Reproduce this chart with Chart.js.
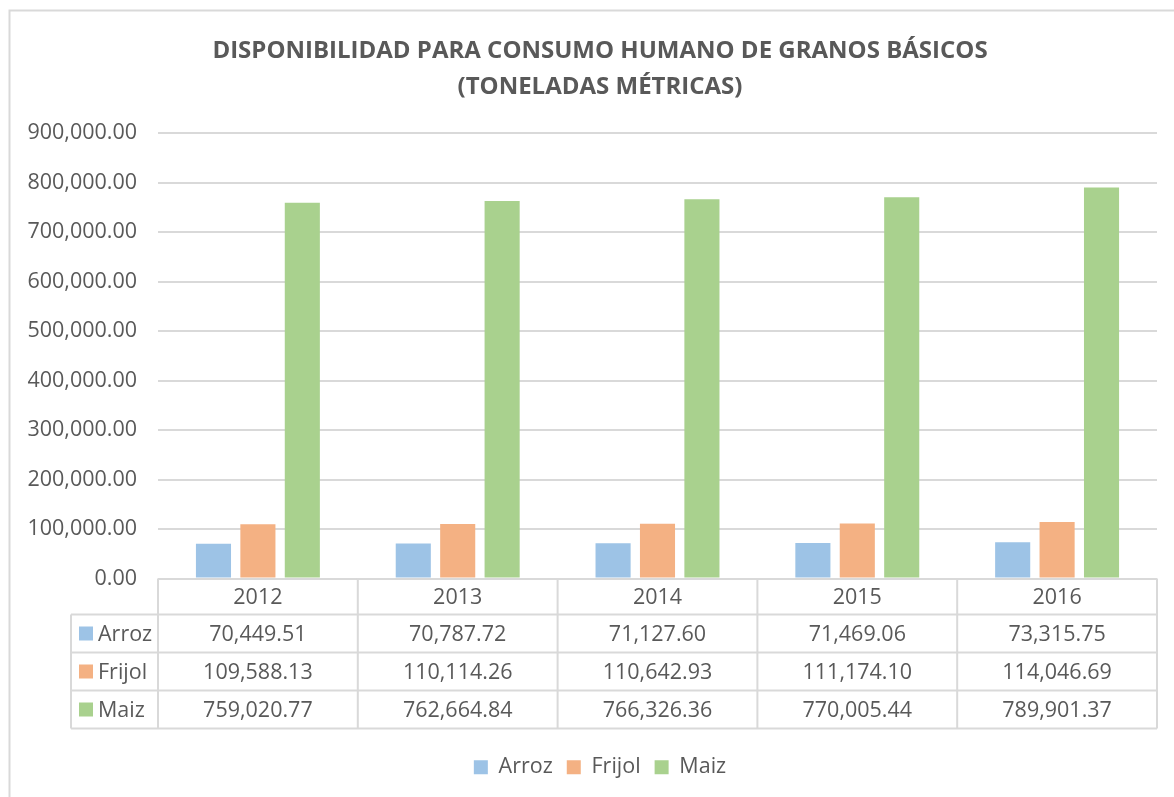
<!DOCTYPE html>
<html>
<head>
<meta charset="utf-8">
<script src="https://cdn.jsdelivr.net/npm/chart.js@4.4.1/dist/chart.umd.min.js"></script>
<style>
html,body{margin:0;padding:0;background:#fff;overflow:hidden;}
#wrap{position:relative;width:1174px;height:797px;}
</style>
</head>
<body>
<div id="wrap"><canvas id="c" width="1174" height="797"></canvas></div>
<script>
const categories = ['2012', '2013', '2014', '2015', '2016'];
const arroz = [70449.51, 70787.72, 71127.60, 71469.06, 73315.75];
const frijol = [109588.13, 110114.26, 110642.93, 111174.10, 114046.69];
const maiz = [759020.77, 762664.84, 766326.36, 770005.44, 789901.37];
const seriesNames = ['Arroz', 'Frijol', 'Maiz'];
const seriesColors = ['#9dc3e6', '#f4b183', '#a9d18e'];
const titleLines = ['DISPONIBILIDAD PARA CONSUMO HUMANO DE GRANOS BÁSICOS', '(TONELADAS MÉTRICAS)'];

const FONT = "'Open Sans', sans-serif";
const TXT = '#595959';
const GRID = '#d9d9d9';
const fmt = v => v.toLocaleString('en-US', {minimumFractionDigits: 2, maximumFractionDigits: 2});

const seriesData = [arroz, frijol, maiz];

const frame = {
  id: 'frame',
  beforeDraw(chart) {
    const ctx = chart.ctx;
    ctx.save();
    ctx.fillStyle = '#fff';
    ctx.fillRect(0, 0, 1174, 797);
    ctx.strokeStyle = GRID;
    ctx.lineWidth = 2;
    ctx.strokeRect(9.5, 10.5, 1300, 900);
    ctx.restore();
  }
};

const dataTable = {
  id: 'dataTable',
  afterDraw(chart) {
    const ctx = chart.ctx;
    const x = chart.scales.x;
    const area = chart.chartArea;
    const n = categories.length;
    const step = (area.right - area.left) / n;
    const top = area.bottom;
    const headH = 36;
    const rowH = 38;
    const leftCol = 71;
    ctx.save();
    ctx.strokeStyle = GRID;
    ctx.lineWidth = 2;
    const yHead = top + headH;
    const yEnd = yHead + rowH * 3;
    ctx.beginPath();
    for (let r = 0; r <= 3; r++) {
      const y = yHead + r * rowH;
      ctx.moveTo(leftCol, y);
      ctx.lineTo(area.right, y);
    }
    for (let i = 0; i <= n; i++) {
      const xx = area.left + i * step;
      ctx.moveTo(xx, top);
      ctx.lineTo(xx, yEnd);
    }
    ctx.moveTo(leftCol, yHead);
    ctx.lineTo(leftCol, yEnd);
    ctx.stroke();

    ctx.fillStyle = TXT;
    ctx.font = "21.5px " + FONT;
    ctx.textAlign = 'center';
    ctx.textBaseline = 'middle';
    for (let i = 0; i < n; i++) {
      const cx = x.getPixelForValue(i);
      ctx.fillText(categories[i], cx, top + headH / 2 + 1);
      for (let s = 0; s < 3; s++) {
        ctx.fillText(fmt(seriesData[s][i]), cx, yHead + s * rowH + rowH / 2 + 1);
      }
    }
    ctx.textAlign = 'left';
    for (let s = 0; s < 3; s++) {
      const cy = yHead + s * rowH + rowH / 2;
      ctx.fillStyle = seriesColors[s];
      ctx.fillRect(79, cy - 7, 14, 14);
      ctx.fillStyle = TXT;
      ctx.fillText(seriesNames[s], 98, cy + 1);
    }
    ctx.restore();
  }
};

new Chart(document.getElementById('c'), {
  type: 'bar',
  data: {
    labels: categories,
    datasets: seriesNames.map((name, i) => ({
      label: name,
      data: seriesData[i],
      backgroundColor: seriesColors[i],
      borderWidth: 0,
      categoryPercentage: 0.667,
      barPercentage: 0.79
    }))
  },
  options: {
    responsive: false,
    animation: false,
    events: [],
    layout: {padding: {top: 10, left: 0, right: -26, bottom: 9}},
    plugins: {
      title: {
        display: true,
        text: titleLines,
        color: TXT,
        font: {family: FONT, size: 24, weight: 'bold', lineHeight: 1.5},
        padding: {top: 23, bottom: 28}
      },
      legend: {
        position: 'bottom',
        labels: {
          color: TXT,
          font: {family: FONT, size: 21.5},
          boxWidth: 14,
          boxHeight: 14,
          padding: 14
        }
      },
      tooltip: {enabled: false}
    },
    scales: {
      x: {
        grid: {display: false},
        border: {display: false},
        ticks: {display: false},
        afterFit(scale) { scale.height = 164; }
      },
      y: {
        min: 0,
        max: 900000,
        ticks: {
          stepSize: 100000,
          color: TXT,
          font: {family: FONT, size: 21.5},
          padding: 21,
          callback: v => fmt(v)
        },
        grid: {color: GRID, lineWidth: 2, drawTicks: false},
        border: {display: false},
        afterFit(scale) { scale.width = 158; }
      },
      yPad: {
        type: 'linear',
        position: 'right',
        display: true,
        grid: {display: false},
        border: {display: false},
        ticks: {display: false},
        afterFit(scale) { scale.width = 43; }
      }
    }
  },
  plugins: [frame, dataTable]
});
</script>
</body>
</html>
